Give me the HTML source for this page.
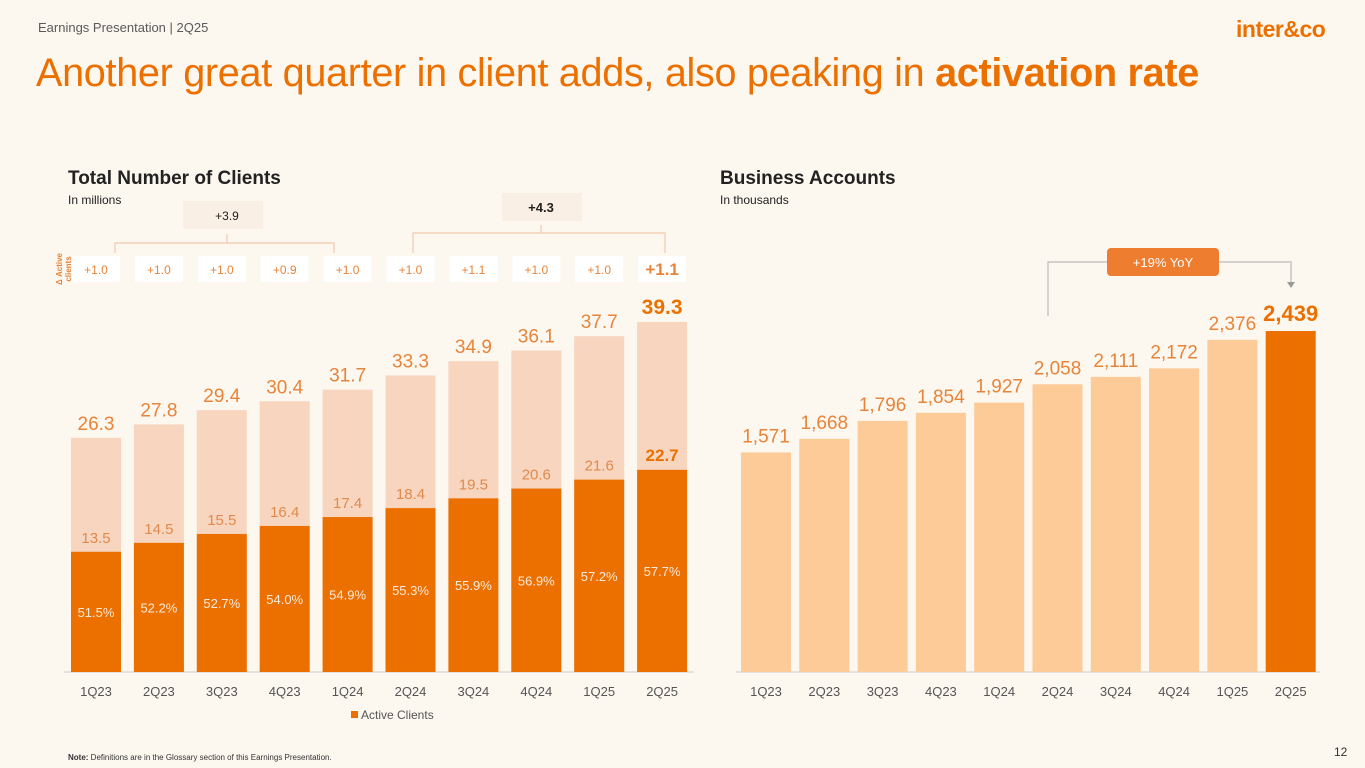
<!DOCTYPE html>
<html><head><meta charset="utf-8">
<style>
body{margin:0;width:1365px;height:768px;background:#FCF7EF;font-family:"Liberation Sans",sans-serif;overflow:hidden;position:relative}
.abs{position:absolute}
</style></head>
<body>
<div class="abs" style="left:38px;top:20px;font-size:13px;color:#5a5a5a">Earnings Presentation | 2Q25</div>
<div class="abs" style="left:1236px;top:16px;font-size:23px;font-weight:bold;color:#EC7000;letter-spacing:-0.5px">inter&amp;co</div>
<div class="abs" style="left:36px;top:51px;font-size:39.6px;color:#EC7000;letter-spacing:-0.3px">Another great quarter in client adds, also peaking in <b>activation rate</b></div>
<div class="abs" style="left:68px;top:168px;font-size:19px;font-weight:bold;color:#222">Total Number of Clients</div>
<div class="abs" style="left:68px;top:193px;font-size:12px;color:#222">In millions</div>
<div class="abs" style="left:720px;top:168px;font-size:19px;font-weight:bold;color:#222">Business Accounts</div>
<div class="abs" style="left:720px;top:193px;font-size:12px;color:#222">In thousands</div>
<div class="abs" style="left:68px;top:753px;font-size:8px;color:#333"><b>Note:</b> Definitions are in the Glossary section of this Earnings Presentation.</div>
<div class="abs" style="left:1334px;top:745px;font-size:12px;color:#333">12</div>
<svg id="chart" class="abs" style="left:0;top:0" width="1365" height="768"></svg>
<script>
const quarters=["1Q23","2Q23","3Q23","4Q23","1Q24","2Q24","3Q24","4Q24","1Q25","2Q25"];
const totalClients=[26.3,27.8,29.4,30.4,31.7,33.3,34.9,36.1,37.7,39.3];
const activeClients=[13.5,14.5,15.5,16.4,17.4,18.4,19.5,20.6,21.6,22.7];
const activationRate=["51.5%","52.2%","52.7%","54.0%","54.9%","55.3%","55.9%","56.9%","57.2%","57.7%"];
const deltaActive=["+1.0","+1.0","+1.0","+0.9","+1.0","+1.0","+1.1","+1.0","+1.0","+1.1"];
const businessAccounts=[1571,1668,1796,1854,1927,2058,2111,2172,2376,2439];
const NS="http://www.w3.org/2000/svg";
const svg=document.getElementById('chart');
function mk(t,a,txt){const e=document.createElementNS(NS,t);for(const k in a)e.setAttribute(k,a[k]);if(txt!==undefined)e.textContent=txt;svg.appendChild(e);return e;}
const base=672;
const xL=i=>96+i*62.9, yL=v=>base-v*8.906;
const xR=i=>766+i*58.3, yR=v=>base-v*0.1398;
const bw=50;
let e=mk('line',{x1:64,x2:694,y1:base,y2:base,stroke:'#ccc'});


e=mk('line',{x1:736,x2:1320,y1:base,y2:base,stroke:'#ccc'});


quarters.forEach((q,i)=>{
  const x=xL(i), last=i===quarters.length-1;
  e=mk('rect',{x:x-bw/2,y:yL(totalClients[i]),width:bw,height:base-yL(totalClients[i]),fill:'#F8D5BE'});
  
  
  e=mk('rect',{x:x-bw/2,y:yL(activeClients[i]),width:bw,height:base-yL(activeClients[i]),fill:'#EC7000'});
  
  
  e=mk('text',{x:x,y:yL(totalClients[i])-8,'text-anchor':'middle','font-size':last?21:19,'font-weight':last?'bold':'normal',fill:last?'#EC7000':'#E8843A'},totalClients[i].toFixed(1));
  
  
  e=mk('text',{x:x,y:yL(activeClients[i])-9,'text-anchor':'middle','font-size':last?17:15,'font-weight':last?'bold':'normal',fill:last?'#EC7000':'#E08A4E'},activeClients[i].toFixed(1));
  
  
  e=mk('text',{x:x,y:(yL(activeClients[i])+base)/2+5,'text-anchor':'middle','font-size':13,fill:'#FDEBDD'},activationRate[i]);
  
  
  e=mk('text',{x:x,y:696,'text-anchor':'middle','font-size':13,fill:'#555'},q);
  
  
  e=mk('rect',{x:x-24,y:256,width:48,height:26,fill:'#fff'});
  
  
  e=mk('text',{x:x,y:last?275:274,'text-anchor':'middle','font-size':last?17:12,'font-weight':last?'bold':'normal',fill:'#E8843A'},deltaActive[i]);
  
  
  const xr=xR(i);
  e=mk('rect',{x:xr-bw/2,y:yR(businessAccounts[i]),width:bw,height:base-yR(businessAccounts[i]),fill:last?'#EC7000':'#FDCB98'});
  
  
  e=mk('text',{x:xr,y:yR(businessAccounts[i])-10,'text-anchor':'middle','font-size':last?22:19,'font-weight':last?'bold':'normal',fill:last?'#EC7000':'#E8843A'},businessAccounts[i].toLocaleString('en-US'));
  
  
  e=mk('text',{x:xr,y:696,'text-anchor':'middle','font-size':13,fill:'#555'},q);
  
  
});
e=mk('text',{x:0,y:0,transform:'translate(62,269) rotate(-90)','text-anchor':'middle','font-size':8,'font-weight':'bold',fill:'#E8843A'},'Δ Active');


e=mk('text',{x:0,y:0,transform:'translate(71,269) rotate(-90)','text-anchor':'middle','font-size':8,'font-weight':'bold',fill:'#E8843A'},'clients');


e=mk('path',{d:'M115,253 V243 H334 V253 M227,243 V234',stroke:'#F2C9AE',fill:'none','stroke-width':1.2});


e=mk('path',{d:'M413,253 V233 H665 V253 M541,233 V225',stroke:'#F2C9AE',fill:'none','stroke-width':1.2});


e=mk('rect',{x:183,y:201,width:80,height:28,fill:'#FAEFE4'});


e=mk('text',{x:227,y:220,'text-anchor':'middle','font-size':12,fill:'#222'},'+3.9');


e=mk('rect',{x:502,y:193,width:80,height:28,fill:'#FAEFE4'});


e=mk('text',{x:541,y:212,'text-anchor':'middle','font-size':13,'font-weight':'bold',fill:'#222'},'+4.3');


e=mk('rect',{x:351,y:711,width:7,height:7,fill:'#EC7000'});


e=mk('text',{x:361,y:719,'font-size':12,fill:'#555'},'Active Clients');


e=mk('path',{d:'M1048,316 V262 H1291 V282',stroke:'#bbb',fill:'none','stroke-width':1.2});


e=mk('path',{d:'M1287,282 L1295,282 L1291,288 Z',fill:'#999'});


e=mk('rect',{x:1107,y:248,width:112,height:28,rx:4,fill:'#EE7D30'});


e=mk('text',{x:1163,y:267,'text-anchor':'middle','font-size':13,fill:'#fff'},'+19% YoY');


</script>
</body></html>
